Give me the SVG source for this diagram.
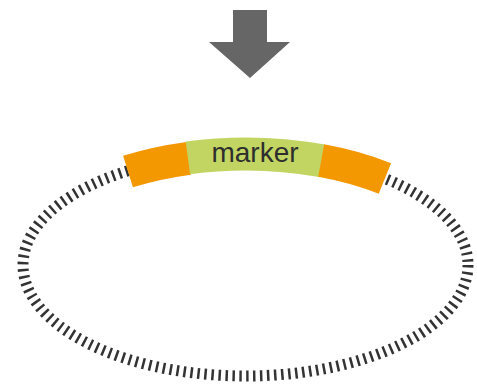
<svg xmlns="http://www.w3.org/2000/svg" width="477" height="391" viewBox="0 0 477 391">
<style>
.seg{fill:none;stroke-width:33;stroke-linecap:butt}
.orange{stroke:#f39800}
.green{stroke:#c2d563}
.lbl{font-family:"Liberation Sans",Arial,sans-serif;font-size:28px;fill:#2e2e2e;text-anchor:middle}
</style>
<rect width="477" height="391" fill="#ffffff"/>
<g id="connectors">
<polygon points="233,10 267,10 267,42 290,42 250,78 209,42 233,42" fill="#666666"/>
</g>
<g id="plasmid">
<ellipse cx="245.5" cy="265" rx="222.5" ry="111" fill="none" stroke="#333333" stroke-width="11" stroke-dasharray="2.5 4.5"/>
</g>
<g id="marker">
<path class="seg orange" d="M128,171.5 A222.5,111 0 0 1 188.8,158.3"/>
<path class="seg green" d="M187.9,157.8 A222.5,111 0 0 1 322,160.8"/>
<path class="seg orange" d="M321.2,160.5 A222.5,111 0 0 1 384.9,178.5"/>
<text class="lbl" x="255" y="162">marker</text>
</g>
</svg>
